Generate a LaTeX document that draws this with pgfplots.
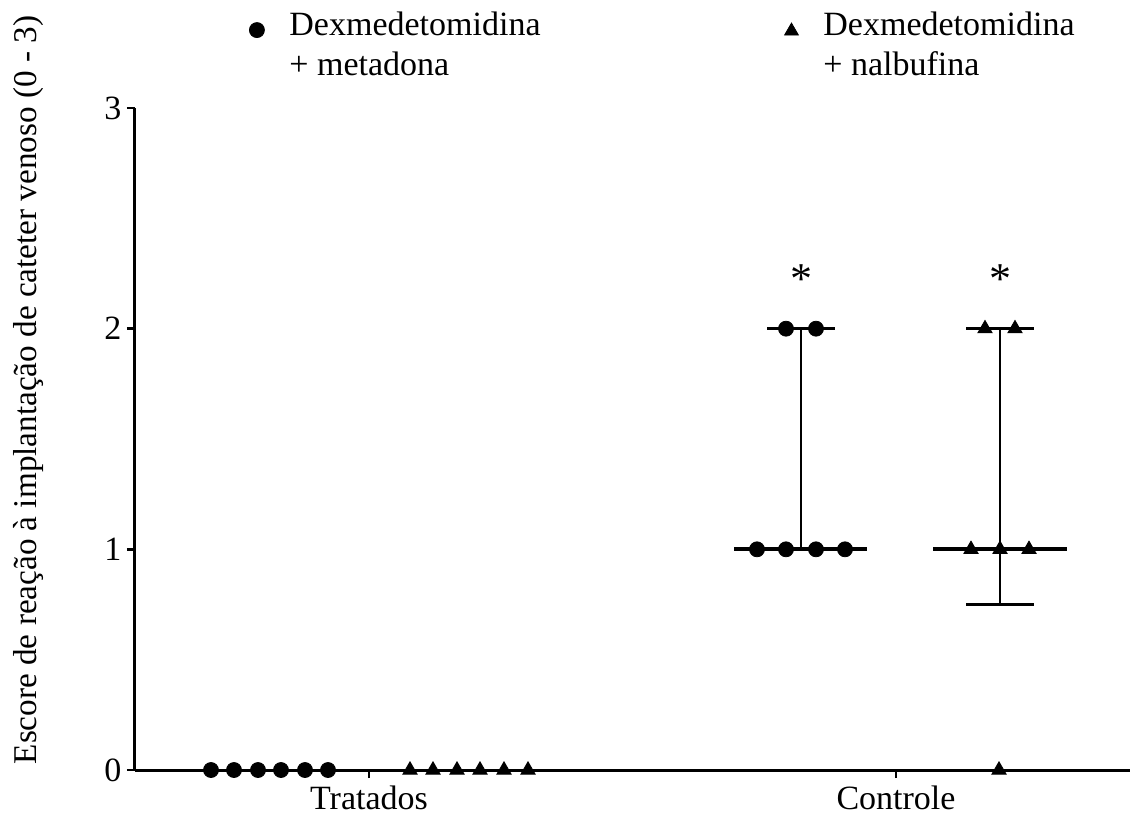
\documentclass[border=0pt]{standalone}
\usepackage{fontspec}
\setmainfont{Liberation Serif}
\usepackage{pgfplots}
\pgfplotsset{compat=1.18}
\begin{document}
\fontsize{17}{20}\selectfont
\begin{tikzpicture}
\begin{axis}[
  at={(0,0)}, anchor=south west,
  scale only axis, width=497.5pt, height=331pt,
  xmin=135, xmax=1130, ymin=0, ymax=3,
  axis lines=left, axis line style={-, line width=1.5pt},
  xtick={369,896}, xticklabels={Tratados,Controle},
  xticklabel style={yshift=2pt},
  yticklabel style={xshift=3pt},
  ytick={0,1,2,3},
  tick style={line width=1.2pt, black},
  major tick length=4pt,
  tick align=outside,
  /pgf/number format/assume math mode=true,
  font=\fontsize{17}{20}\selectfont,
  ylabel={Escore de reação à implantação de cateter venoso (0 - 3)},
  ylabel style={at={(axis description cs:-0.0985,0.574)}, anchor=base, font=\fontsize{16.6}{20}\selectfont},
  clip=false,
  legend columns=2,
  legend style={draw=none, fill=none, at={(axis description cs:0.1146,1.035)}, anchor=south west,
    cells={align=left, anchor=west}, inner sep=0pt,
    /tikz/every odd column/.append style={column sep=10.5pt},
    /tikz/every even column/.append style={column sep=120pt}},
]
% legend
\addlegendimage{black, legend image code/.code={\pgftransformshift{\pgfpoint{0.3cm}{8pt}}\pgfsetplotmarksize{3.75pt}\pgfuseplotmark{*}}}
\addlegendentry{Dexmedetomidina\\+ metadona}
\addlegendimage{black, legend image code/.code={\pgftransformshift{\pgfpoint{0.3cm}{7.5pt}}\pgfsetplotmarksize{4pt}\pgfuseplotmark{triangle*}}}
\addlegendentry{Dexmedetomidina\\+ nalbufina}
% medians and ranges
\addplot[forget plot, line width=2pt] coordinates {(734,1)(867,1)};
\addplot[forget plot, line width=1.4pt] coordinates {(801,1)(801,2)};
\addplot[forget plot, line width=1.4pt] coordinates {(767,2)(835,2)};
\addplot[forget plot, line width=2pt] coordinates {(933,1)(1067,1)};
\addplot[forget plot, line width=1.4pt] coordinates {(1000,0.75)(1000,2)};
\addplot[forget plot, line width=1.4pt] coordinates {(966,2)(1034,2)};
\addplot[forget plot, line width=1.4pt] coordinates {(966,0.75)(1034,0.75)};
% data
\addplot[forget plot, only marks, mark=*, mark size=3.75pt, black] coordinates {
 (211,0)(234,0)(258,0)(281,0)(305,0)(328,0)
 (757,1)(786,1)(816,1)(845,1)(786,2)(816,2)};
\addplot[forget plot, only marks, mark=triangle*, mark size=4.1pt, black] coordinates {
 (410,0)(433,0)(457,0)(480,0)(504,0)(528,0)
 (971,1)(1000,1)(1029,1)(985,2)(1015,2)(999,0)};
\node[font=\fontsize{22}{22}\selectfont] at (axis cs:801,2.225) {*};
\node[font=\fontsize{22}{22}\selectfont] at (axis cs:1000,2.225) {*};
\end{axis}
\pgfresetboundingbox
\path (-67.5pt,-23pt) rectangle (497.5pt,385pt);
\end{tikzpicture}
\end{document}
